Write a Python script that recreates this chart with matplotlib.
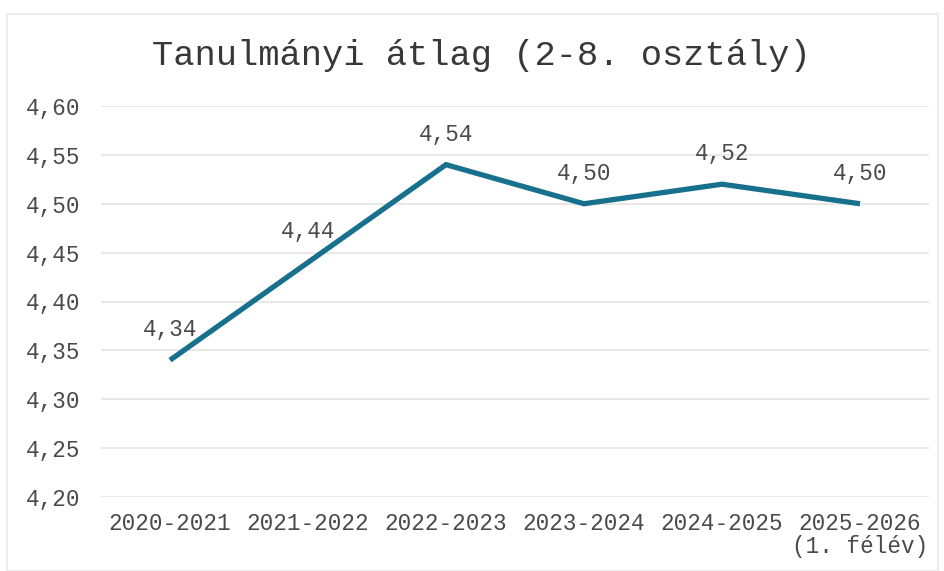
import matplotlib
matplotlib.use("Agg")
import matplotlib.pyplot as plt
from matplotlib.patches import Rectangle

categories = ["2020-2021", "2021-2022", "2022-2023", "2023-2024", "2024-2025", "2025-2026\n(1. félév)"]
values = [4.34, 4.44, 4.54, 4.50, 4.52, 4.50]
value_labels = ["4,34", "4,44", "4,54", "4,50", "4,52", "4,50"]
yticks = [4.20, 4.25, 4.30, 4.35, 4.40, 4.45, 4.50, 4.55, 4.60]
ytick_labels = ["4,20", "4,25", "4,30", "4,35", "4,40", "4,45", "4,50", "4,55", "4,60"]
title = "Tanulmányi átlag (2-8. osztály)"

plt.rcParams['font.family'] = ['Liberation Mono', 'DejaVu Sans Mono']

fig = plt.figure(figsize=(9.45, 5.71), dpi=100)
fig.patches.append(Rectangle((7/945, 0.0), 1 - 14/945, 1 - 14/571, transform=fig.transFigure,
                             fill=False, edgecolor="#ececec", linewidth=1.5))
ax = fig.add_axes([101/945, 1 - 497/571, 828/945, 391/571])

text_color = "#4a4a4a"
x = list(range(len(categories)))
ax.plot(x, values, color="#17708c", linewidth=3.8, solid_capstyle="butt", solid_joinstyle="miter", zorder=3)
for xi, v, lab in zip(x, values, value_labels):
    ax.annotate(lab, (xi, v), xytext=(0, 22), textcoords="offset points",
                ha="center", va="center", fontsize=16.3, color=text_color)

ax.set_xlim(-0.5, len(categories) - 0.5)
ax.set_ylim(4.20, 4.60)
ax.set_yticks(yticks)
ax.set_yticklabels(ytick_labels, fontsize=16.3, color=text_color)
ax.set_xticks(x)
ax.set_xticklabels(categories, fontsize=16.3, color=text_color, linespacing=1.0)
ax.tick_params(length=0)
ax.tick_params(axis="x", pad=11)
ax.tick_params(axis="y", pad=15)
ax.grid(axis="y", color="#e6e6e6", linewidth=1.3)
ax.set_axisbelow(True)
for s in ax.spines.values():
    s.set_visible(False)

fig.text(481/945, 1 - 55/571, title, ha="center", va="center", fontsize=25.5, color="#383838")

fig.savefig("out.png", dpi=100)
